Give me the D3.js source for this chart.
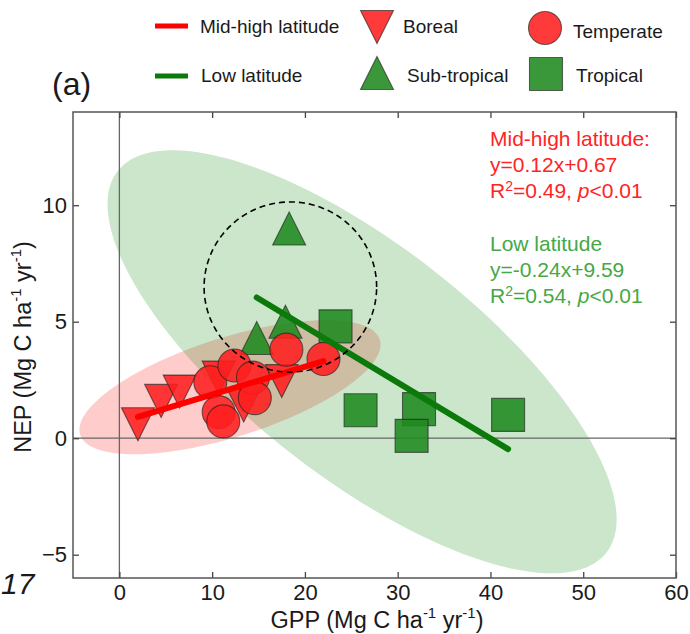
<!DOCTYPE html>
<html>
<head>
<meta charset="utf-8">
<script src="https://cdn.jsdelivr.net/npm/d3@7"></script>
<style>
  body { margin: 0; background: #fff; }
  text { font-family: "Liberation Sans", Arial, sans-serif; }
</style>
</head>
<body>
<svg id="chart" width="690" height="634"></svg>
<script>
// Site-level GPP and NEP (Mg C ha-1 yr-1), grouped by biome
const borealGPP = [2.0, 4.5, 6.5, 10.7, 13.4, 17.5];
const borealNEP = [0.6, 1.6, 2.0, 2.6, 1.4, 2.45];
const temperateGPP = [9.8, 10.7, 11.2, 12.4, 14.4, 14.6, 18.0, 22.0];
const temperateNEP = [2.4, 1.12, 0.72, 3.12, 2.6, 1.72, 3.8, 3.4];
const subtropicalGPP = [14.8, 17.9, 18.3];
const subtropicalNEP = [4.3, 5.0, 9.0];
const tropicalGPP = [23.3, 26.0, 32.3, 31.5, 41.9];
const tropicalNEP = [4.8, 1.2, 1.25, 0.1, 1.0];

// Linear fits: [slope, intercept]
const midHighFit = [0.12, 0.67];
const lowLatFit = [-0.24, 9.59];

// Axis ticks
const xTicks = [0, 10, 20, 30, 40, 50, 60];
const yTicks = [-5, 0, 5, 10];

// Regions in data units: centre x, centre y, then two conjugate semi-axis vectors
const midHighEllipse = [11.92, 2.19, 16.15, 2.04, 1.62, -2.03];
const lowLatEllipse = [26.16, 3.28, 26.34, -8.19, -7.70, -3.92];
const focusCircle = [18.43, 6.49, 9.3, 0, 0, 3.65];

const RED = "#ff1f1f";
const GREEN = "#1f8a1f";
const LINE_RED = "#ff0000";
const LINE_GREEN = "#0b7a0b";

const svg = d3.select("#chart");
const x = d3.scaleLinear().domain([-5, 60]).range([73, 676]);
const y = d3.scaleLinear().domain([-6, 14]).range([578, 112]);

const line = d3.line().x(d => x(d[0])).y(d => y(d[1]));

function ellipsePoints(e) {
  return d3.range(0, 361, 2).map(deg => {
    const t = deg * Math.PI / 180;
    return [e[0] + e[2] * Math.cos(t) + e[4] * Math.sin(t),
            e[1] + e[3] * Math.cos(t) + e[5] * Math.sin(t)];
  });
}

// marker shapes (half-size h)
const H = 16.5;
const triDown = h => `M${-h},${-h}L${h},${-h}L0,${h}Z`;
const triUp = h => `M${-h},${h}L${h},${h}L0,${-h}Z`;
const square = h => `M${-h},${-h}H${h}V${h}H${-h}Z`;

svg.append("defs").append("clipPath").attr("id", "plot")
  .append("rect").attr("x", 73).attr("y", 112).attr("width", 603).attr("height", 466);

const plot = svg.append("g").attr("clip-path", "url(#plot)");

// shaded regions
plot.append("path").datum(ellipsePoints(midHighEllipse))
  .attr("d", line).attr("fill", "#ff0000").attr("fill-opacity", 0.2);
plot.append("path").datum(ellipsePoints(lowLatEllipse))
  .attr("d", line).attr("fill", "#008000").attr("fill-opacity", 0.2);

// zero reference lines
plot.append("line").attr("x1", x(0)).attr("x2", x(0)).attr("y1", y(14)).attr("y2", y(-6))
  .attr("stroke", "#666").attr("stroke-width", 1.3);
plot.append("line").attr("x1", x(-5)).attr("x2", x(60)).attr("y1", y(0)).attr("y2", y(0))
  .attr("stroke", "#666").attr("stroke-width", 1.3);

function drawMarkers(gx, gy, shape, fill) {
  plot.append("g").selectAll("path").data(gx.map((v, i) => [v, gy[i]])).join("path")
    .attr("transform", d => `translate(${x(d[0])},${y(d[1])})`)
    .attr("d", shape)
    .attr("fill", fill).attr("fill-opacity", 0.88)
    .attr("stroke", "#222").attr("stroke-opacity", 0.65).attr("stroke-width", 1.1);
}

drawMarkers(tropicalGPP, tropicalNEP, square(H), GREEN);
drawMarkers(subtropicalGPP, subtropicalNEP, triUp(H), GREEN);
drawMarkers(borealGPP, borealNEP, triDown(H), RED);
plot.append("g").selectAll("circle")
  .data(temperateGPP.map((v, i) => [v, temperateNEP[i]])).join("circle")
  .attr("cx", d => x(d[0])).attr("cy", d => y(d[1])).attr("r", H)
  .attr("fill", RED).attr("fill-opacity", 0.88)
  .attr("stroke", "#222").attr("stroke-opacity", 0.65).attr("stroke-width", 1.1);

// regression lines over each group's GPP range
const midX = d3.extent(borealGPP.concat(temperateGPP));
const lowX = d3.extent(subtropicalGPP.concat(tropicalGPP));
plot.append("path").datum(midX.map(v => [v, midHighFit[0] * v + midHighFit[1]]))
  .attr("d", line).attr("stroke", LINE_RED).attr("stroke-width", 6)
  .attr("stroke-linecap", "round").attr("fill", "none");
plot.append("path").datum(lowX.map(v => [v, lowLatFit[0] * v + lowLatFit[1]]))
  .attr("d", line).attr("stroke", LINE_GREEN).attr("stroke-width", 6)
  .attr("stroke-linecap", "round").attr("fill", "none");

// dashed circle
plot.append("path").datum(ellipsePoints(focusCircle))
  .attr("d", line).attr("fill", "none").attr("stroke", "#000")
  .attr("stroke-width", 1.6).attr("stroke-dasharray", "6,4");

// axes with inward ticks on all sides
const fmt = d3.format("d");
const axB = svg.append("g").attr("transform", "translate(0,578)")
  .call(d3.axisBottom(x).tickValues(xTicks).tickFormat(fmt).tickSize(-6).tickPadding(6));
const axT = svg.append("g").attr("transform", "translate(0,112)")
  .call(d3.axisTop(x).tickValues(xTicks).tickFormat("").tickSize(-6));
const axL = svg.append("g").attr("transform", "translate(73,0)")
  .call(d3.axisLeft(y).tickValues(yTicks).tickFormat(fmt).tickSize(-6).tickPadding(6));
const axR = svg.append("g").attr("transform", "translate(676,0)")
  .call(d3.axisRight(y).tickValues(yTicks).tickFormat("").tickSize(-6));
[axB, axT, axL, axR].forEach(a => {
  a.select(".domain").remove();
  a.selectAll(".tick line").attr("stroke", "#444").attr("stroke-width", 1.3);
  a.selectAll("text").attr("font-size", 22).attr("fill", "#1a1a1a")
    .attr("font-family", "'Liberation Sans', Arial, sans-serif");
});

svg.append("rect").attr("x", 73).attr("y", 112).attr("width", 603).attr("height", 466)
  .attr("fill", "none").attr("stroke", "#555").attr("stroke-width", 1.5);

// axis titles
function unitLabel(sel, name) {
  sel.append("tspan").text(name + " (Mg C ha");
  sel.append("tspan").text("-1").attr("font-size", 15).attr("dy", -10);
  sel.append("tspan").text(" yr").attr("dy", 10);
  sel.append("tspan").text("-1").attr("font-size", 15).attr("dy", -10);
  sel.append("tspan").text(")").attr("dy", 10);
}
const xt = svg.append("text").attr("x", 377).attr("y", 628).attr("text-anchor", "middle")
  .attr("font-size", 23.5).attr("fill", "#1a1a1a");
unitLabel(xt, "GPP");
const yt = svg.append("text").attr("transform", "translate(31,347) rotate(-90)")
  .attr("text-anchor", "middle").attr("font-size", 23.5).attr("fill", "#1a1a1a");
unitLabel(yt, "NEP");

// fit annotations
function annotation(lines, color, y0) {
  const g = svg.append("g").attr("fill", color).attr("font-size", 21);
  g.append("text").attr("x", 490).attr("y", y0).text(lines[0]);
  g.append("text").attr("x", 490).attr("y", y0 + 26).text(lines[1]);
  const t = g.append("text").attr("x", 490).attr("y", y0 + 52);
  t.append("tspan").text("R");
  t.append("tspan").text("2").attr("font-size", 14).attr("dy", -7);
  t.append("tspan").text("=" + lines[2] + ", ").attr("dy", 7);
  t.append("tspan").text("p").attr("font-style", "italic");
  t.append("tspan").text("<0.01");
}
annotation(["Mid-high latitude:", "y=0.12x+0.67", "0.49"], "#ff2424", 146);
annotation(["Low latitude", "y=-0.24x+9.59", "0.54"], "#45a845", 251);

// legend
const lg = svg.append("g");
lg.append("line").attr("x1", 155).attr("x2", 188).attr("y1", 26).attr("y2", 26)
  .attr("stroke", LINE_RED).attr("stroke-width", 5);
lg.append("line").attr("x1", 155).attr("x2", 188).attr("y1", 76).attr("y2", 76)
  .attr("stroke", LINE_GREEN).attr("stroke-width", 5);
const legendMarker = (d, tx, ty, fill) => lg.append("path").attr("d", d)
  .attr("transform", `translate(${tx},${ty})`).attr("fill", fill).attr("fill-opacity", 0.88)
  .attr("stroke", "#222").attr("stroke-opacity", 0.65).attr("stroke-width", 1.1);
legendMarker(triDown(H), 377, 27, RED);
legendMarker(triUp(H), 377, 73, GREEN);
legendMarker(square(H), 546, 74, GREEN);
lg.append("circle").attr("cx", 545).attr("cy", 28).attr("r", H)
  .attr("fill", RED).attr("fill-opacity", 0.88)
  .attr("stroke", "#222").attr("stroke-opacity", 0.65).attr("stroke-width", 1.1);
const legendText = (t, tx, ty) => lg.append("text").attr("x", tx).attr("y", ty)
  .attr("font-size", 19).attr("fill", "#1a1a1a").text(t);
legendText("Mid-high latitude", 200, 33);
legendText("Boreal", 403, 33);
legendText("Temperate", 573, 38);
legendText("Low latitude", 201, 82);
legendText("Sub-tropical", 407, 82);
legendText("Tropical", 576, 82);

svg.append("text").attr("x", 52).attr("y", 95).attr("font-size", 32)
  .attr("fill", "#1a1a1a").text("(a)");

svg.append("text").attr("x", 1).attr("y", 594).attr("font-size", 30)
  .attr("font-style", "italic").attr("font-family", "'Open Sans', sans-serif")
  .attr("fill", "#1a1a1a").text("17");
</script>
</body>
</html>
